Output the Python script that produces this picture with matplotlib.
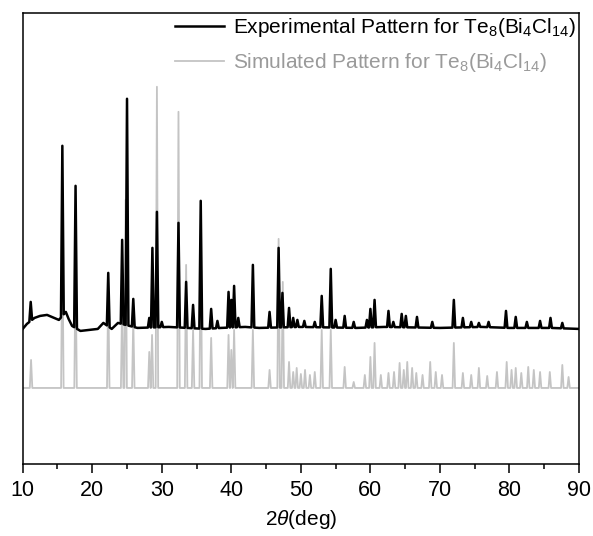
import matplotlib
matplotlib.use('Agg')
import matplotlib.pyplot as plt
import numpy as np

plt.rcParams['font.family'] = ['Liberation Sans', 'DejaVu Sans']
plt.rcParams['mathtext.fontset'] = 'custom'
plt.rcParams['mathtext.rm'] = 'Liberation Sans'
plt.rcParams['mathtext.it'] = 'Liberation Sans:italic'

# ---- experimental pattern (arbitrary intensity units) ----
# background
exp_bg_2theta = [10.0, 10.6, 11.7, 12.5, 13.5, 14.5, 15.2, 16.2, 16.6, 17.1, 18.3,
                 19.5, 20.8, 21.6, 22.8, 23.7, 26.5, 31.0, 36.3, 38.5, 42.0, 44.0,
                 50.0, 58.0, 62.0, 70.0, 76.0, 80.0, 86.0, 90.0]
exp_bg_counts = [135, 140, 146, 148, 149, 146, 144, 152, 145, 138, 133,
                 134, 135, 141, 135, 141, 136, 137, 135, 136, 137, 136,
                 137, 136, 137, 136, 137, 136, 136, 135]

exp_peak_2theta = [11.15, 15.7, 17.6, 22.3, 24.3, 25.0, 25.9, 28.2, 28.65,
                   29.3, 30.0, 32.4, 33.5, 34.5, 35.6, 37.1, 38.0, 39.6, 40.0,
                   40.4, 41.0, 43.1, 45.5, 46.8, 47.35, 48.3, 48.9, 49.5, 50.5,
                   52.0, 53.0, 54.3, 55.0, 56.3, 57.6, 59.5, 60.0, 60.6, 62.6,
                   63.3, 64.5, 65.1, 66.7, 68.9, 72.0, 73.3, 74.5, 75.6, 77.0,
                   79.5, 80.9, 82.5, 84.4, 85.9, 87.6]
exp_peak_counts = [162, 318, 278, 191, 224, 365, 165, 146, 216,
                   252, 142, 241, 182, 159, 263, 155, 143, 172, 164,
                   178, 146, 199, 152, 216, 171, 156, 146, 144, 143,
                   142, 168, 195, 144, 148, 142, 144, 155, 164, 153,
                   142, 150, 148, 147, 142, 164, 146, 142, 141, 142,
                   153, 147, 142, 143, 146, 141]

# ---- simulated pattern ----
sim_base = 76
sim_peak_2theta = [11.2, 15.7, 17.6, 22.3, 24.3, 24.8, 25.9, 28.2, 28.6, 29.3,
                   32.4, 33.5, 34.5, 35.6, 37.1, 39.6, 40.0, 40.4, 43.1, 45.5,
                   46.8, 47.4, 48.3, 48.9, 49.4, 50.0, 50.6, 51.3, 52.0, 53.0,
                   54.3, 56.3, 57.6, 59.2, 60.0, 60.6, 61.5, 62.6, 63.4, 64.2,
                   64.8, 65.3, 66.0, 66.6, 67.5, 68.6, 69.4, 70.3, 72.0, 73.3,
                   74.5, 75.6, 76.8, 78.2, 79.6, 80.3, 80.9, 81.7, 82.7, 83.5,
                   84.4, 85.8, 87.6, 88.5]
sim_peak_counts = [104, 234, 204, 174, 164, 264, 144, 112, 129, 377,
                   352, 199, 134, 234, 126, 129, 114, 134, 134, 94,
                   225, 182, 102, 92, 96, 90, 94, 89, 92, 134,
                   134, 97, 82, 89, 107, 121, 89, 91, 92, 101,
                   94, 102, 96, 91, 89, 102, 92, 89, 121, 91,
                   89, 96, 88, 92, 102, 94, 96, 91, 97, 94,
                   92, 92, 99, 87]


def build_trace(bg_x, bg_y, peak_x, peak_y, hw=0.19):
    # join background points and narrow peak profiles into one polyline
    bg_x = np.asarray(bg_x, float)
    bg_y = np.asarray(bg_y, float)
    keep = np.ones(len(bg_x), bool)
    for p in peak_x:
        keep &= np.abs(bg_x - p) > hw
    xs = list(bg_x[keep])
    ys = list(bg_y[keep])
    for p, h in zip(peak_x, peak_y):
        lo = np.interp(p - hw, bg_x, bg_y)
        hi = np.interp(p + hw, bg_x, bg_y)
        xs += [p - hw, p, p + hw]
        ys += [lo, h, hi]
    order = np.argsort(xs, kind='stable')
    return np.array(xs)[order], np.array(ys)[order]


x_exp, y_exp = build_trace(exp_bg_2theta, exp_bg_counts, exp_peak_2theta,
                           exp_peak_counts, hw=0.2)
x_sim, y_sim = build_trace([10, 90], [sim_base, sim_base], sim_peak_2theta,
                           sim_peak_counts, hw=0.18)

fig = plt.figure(figsize=(5.93, 5.36), dpi=100)
ax = fig.add_axes([0.0383, 0.1343, 0.9381, 0.842])

ax.plot(x_sim, y_sim, color='#c4c4c4', lw=1.3,
        label=r'Simulated Pattern for Te$_8$(Bi$_4$Cl$_{14}$)')
ax.plot(x_exp, y_exp, color='black', lw=1.8,
        label=r'Experimental Pattern for Te$_8$(Bi$_4$Cl$_{14}$)')

ax.set_xlim(10, 90)
ax.set_ylim(0, 451)
ax.set_xticks(np.arange(10, 91, 10))
ax.set_xticks(np.arange(15, 90, 10), minor=True)
ax.set_yticks([])
ax.tick_params(axis='x', which='major', direction='out', length=6.5, width=1.1,
               labelsize=15.5, pad=5)
ax.tick_params(axis='x', which='minor', direction='out', length=3.8, width=1.1)
for sp in ax.spines.values():
    sp.set_linewidth(1.1)

ax.set_xlabel(r'2$\it{\theta}$(deg)', fontsize=15, labelpad=5)

handles, labels = ax.get_legend_handles_labels()
leg = ax.legend(handles[::-1], labels[::-1], loc='upper right', frameon=False,
                fontsize=15, handlelength=2.35, handletextpad=0.43,
                labelspacing=0.6, borderpad=0.15, borderaxespad=0.0,
                bbox_to_anchor=(1.0, 1.0))
leg.get_texts()[1].set_color('#9a9a9a')

fig.savefig('out.png', dpi=100)
